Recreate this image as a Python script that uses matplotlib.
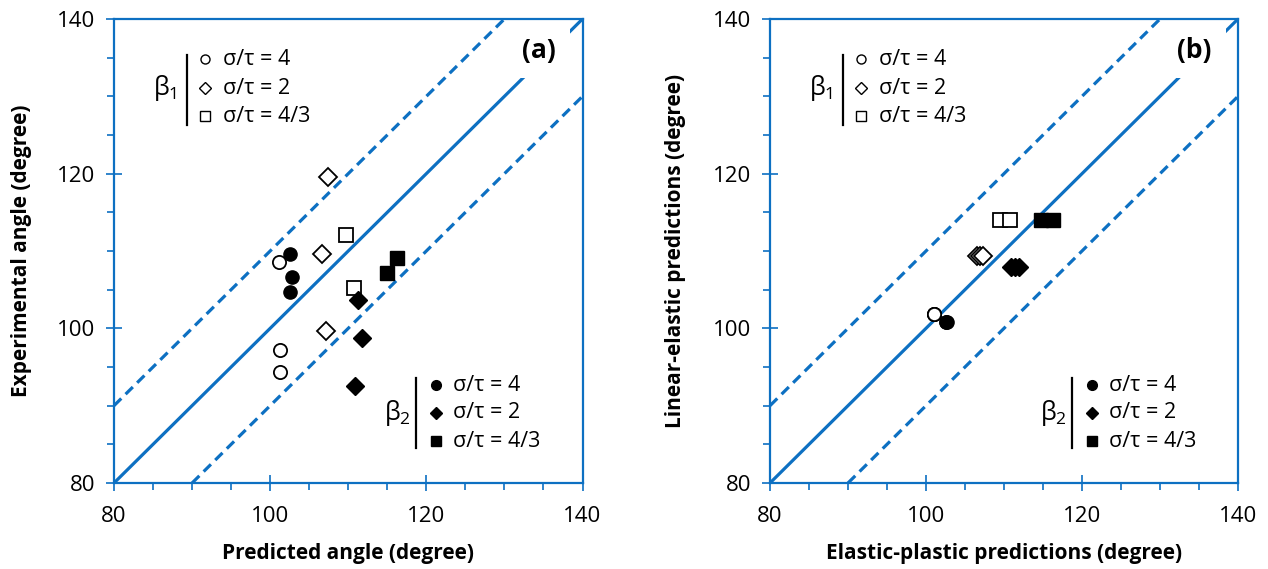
import matplotlib
matplotlib.use("Agg")
import matplotlib.pyplot as plt
from matplotlib.ticker import MultipleLocator

plt.rcParams['font.family'] = ['Open Sans', 'DejaVu Sans']
plt.rcParams['mathtext.fontset'] = 'custom'
plt.rcParams['mathtext.rm'] = 'Open Sans'
plt.rcParams['mathtext.it'] = 'Open Sans'

BLUE = '#0D70C2'

# ---- (a) predicted vs experimental angle ----
a_b1_circle_x = [101.1, 101.25, 101.25]
a_b1_circle_y = [108.6, 97.2, 94.4]
a_b1_diamond_x = [107.4, 106.7, 107.1]
a_b1_diamond_y = [119.6, 109.6, 99.65]
a_b1_square_x = [109.7, 110.7]
a_b1_square_y = [112.1, 105.2]

a_b2_circle_x = [102.6, 102.8, 102.5]
a_b2_circle_y = [109.6, 106.6, 104.7]
a_b2_diamond_x = [111.3, 111.8, 110.9]
a_b2_diamond_y = [103.7, 98.8, 92.6]
a_b2_square_x = [116.2, 115.0]
a_b2_square_y = [109.1, 107.1]

# ---- (b) elastic-plastic vs linear-elastic predictions ----
b_b1_circle_x = [101.0, 101.0, 101.0]
b_b1_circle_y = [101.85, 101.85, 101.85]
b_b1_diamond_x = [106.5, 106.9, 107.3]
b_b1_diamond_y = [109.4, 109.4, 109.4]
b_b1_square_x = [109.5, 110.8]
b_b1_square_y = [114.0, 114.0]

b_b2_circle_x = [102.5, 102.6, 102.7]
b_b2_circle_y = [100.8, 100.8, 100.8]
b_b2_diamond_x = [110.9, 111.4, 111.9]
b_b2_diamond_y = [107.9, 107.9, 107.9]
b_b2_square_x = [114.8, 116.3]
b_b2_square_y = [114.0, 114.0]

axis_min, axis_max = 80, 140
band = 10
x_ticks = [80, 100, 120, 140]
ratio_labels = ['σ/τ = 4', 'σ/τ = 2', 'σ/τ = 4/3']

fig = plt.figure(figsize=(12.68, 5.69), dpi=100)
W, H = 1268, 569
ax_a = fig.add_axes([114 / W, (H - 483) / H, 468.5 / W, 464 / H])
ax_b = fig.add_axes([770 / W, (H - 483) / H, 468 / W, 464 / H])

open_kw = dict(mfc='white', mec='black', mew=1.3, ls='none', zorder=4)
fill_kw = dict(mfc='black', mec='black', mew=1.0, ls='none', zorder=4)
sizes = {'o': 9.5, 'D': 9.3, 's': 9.8}


def style_axes(ax):
    ax.set_xlim(axis_min, axis_max)
    ax.set_ylim(axis_min, axis_max)
    for s in ax.spines.values():
        s.set_color(BLUE)
        s.set_linewidth(1.6)
    ax.set_xticks(x_ticks)
    ax.set_yticks(x_ticks)
    ax.xaxis.set_minor_locator(MultipleLocator(5))
    ax.yaxis.set_minor_locator(MultipleLocator(5))
    ax.tick_params(which='major', direction='inout', length=11, width=1.2,
                   color=BLUE, labelsize=16, labelcolor='black')
    ax.tick_params(which='minor', direction='out', length=5, width=1.2,
                   color=BLUE)
    ax.tick_params(axis='x', which='major', pad=11)
    ax.tick_params(axis='y', which='major', pad=8)


def reference_lines(ax):
    lk = dict(color=BLUE, lw=2.3, solid_capstyle='butt', zorder=2)
    ax.plot([axis_min, axis_max], [axis_min, axis_max], **lk)
    ax.plot([axis_min, axis_max - band], [axis_min + band, axis_max],
            dashes=(3.2, 1.9), dash_capstyle='butt', **lk)
    ax.plot([axis_min + band, axis_max], [axis_min, axis_max - band],
            dashes=(3.2, 1.9), dash_capstyle='butt', **lk)


def key_block(ax, sub, x_beta, x_bar, x_sym, x_txt, rows, bar_span, filled):
    tr = ax.transAxes
    ax.text(x_beta, rows[1], r'$\mathrm{\beta}_{%s}$' % sub, transform=tr,
            ha='center', va='center', fontsize=18, zorder=6)
    ax.plot([x_bar, x_bar], bar_span, color='black', lw=1.6,
            transform=tr, clip_on=False, zorder=6)
    kw = fill_kw if filled else open_kw
    key_sizes = {'o': 7.0 if filled else 6.5, 'D': 6.2, 's': 6.5}
    for m, y, lab in zip(['o', 'D', 's'], rows, ratio_labels):
        ax.plot([x_sym], [y], marker=m, ms=key_sizes[m], transform=tr,
                clip_on=False, **{**kw, 'mew': 1.0, 'zorder': 6})
        ax.text(x_txt, y, lab, transform=tr, ha='left', va='center',
                fontsize=15.5, zorder=6)


def panel(ax, tag, b1, b2):
    style_axes(ax)
    reference_lines(ax)
    for (xs, ys), m in zip(b1, ['o', 'D', 's']):
        ax.plot(xs, ys, marker=m, ms=sizes[m], **open_kw)
    for (xs, ys), m in zip(b2, ['o', 'D', 's']):
        ax.plot(xs, ys, marker=m, ms=sizes[m], **fill_kw)
    ax.text(0.907, 0.932, tag, transform=ax.transAxes, ha='center',
            va='center', fontsize=19, fontweight='bold', zorder=5,
            bbox=dict(facecolor='white', edgecolor='none', pad=10))
    key_block(ax, '1', 0.108, 0.155, 0.194, 0.232,
              [0.913, 0.851, 0.790], [0.922, 0.772], filled=False)
    key_block(ax, '2', 0.606, 0.645, 0.687, 0.724,
              [0.211, 0.151, 0.0905], [0.226, 0.0754], filled=True)


panel(ax_a, '(a)',
      [(a_b1_circle_x, a_b1_circle_y), (a_b1_diamond_x, a_b1_diamond_y),
       (a_b1_square_x, a_b1_square_y)],
      [(a_b2_circle_x, a_b2_circle_y), (a_b2_diamond_x, a_b2_diamond_y),
       (a_b2_square_x, a_b2_square_y)])
panel(ax_b, '(b)',
      [(b_b1_circle_x, b_b1_circle_y), (b_b1_diamond_x, b_b1_diamond_y),
       (b_b1_square_x, b_b1_square_y)],
      [(b_b2_circle_x, b_b2_circle_y), (b_b2_diamond_x, b_b2_diamond_y),
       (b_b2_square_x, b_b2_square_y)])

lab_kw = dict(fontsize=15, fontweight='bold', ha='center', va='center')
fig.text(348 / W, 1 - 553 / H, 'Predicted angle (degree)', **lab_kw)
fig.text(1004 / W, 1 - 553 / H, 'Elastic-plastic predictions (degree)', **lab_kw)
fig.text(22 / W, 1 - 251 / H, 'Experimental angle (degree)', rotation=90, **lab_kw)
fig.text(676 / W, 1 - 251 / H, 'Linear-elastic predictions (degree)', rotation=90, **lab_kw)

fig.savefig('out.png', dpi=100)
